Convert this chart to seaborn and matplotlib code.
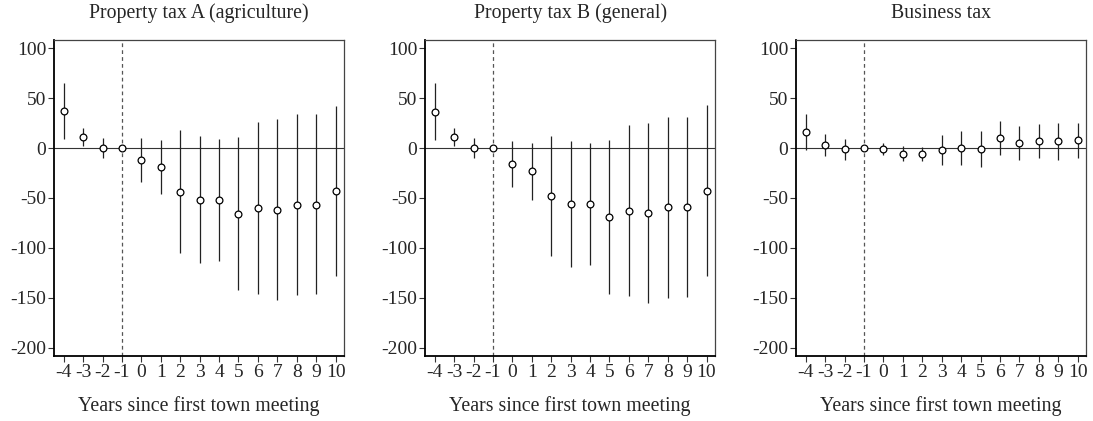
import numpy as np
import pandas as pd
import matplotlib
matplotlib.use("Agg")
import matplotlib.pyplot as plt
import seaborn as sns

# event time
years = [-4, -3, -2, -1, 0, 1, 2, 3, 4, 5, 6, 7, 8, 9, 10]

# property tax A (agriculture)
coef_a = [36.8, 11.4, 0.0, 0.0, -11.7, -19.0, -43.8, -52.0, -52.5, -66.0, -60.5, -62.0, -57.0, -57.0, -43.0]
hi_a = [65.5, 20.4, 10.0, 0.0, 10.0, 8.4, 18.0, 12.0, 9.4, 11.4, 26.0, 28.7, 33.8, 33.8, 42.5]
lo_a = [8.7, 2.3, -9.7, 0.0, -34.0, -46.5, -104.7, -115.0, -113.5, -142.5, -146.0, -152.0, -147.5, -146.5, -128.0]

# property tax B (general)
coef_b = [36.5, 11.4, 0.3, 0.0, -16.0, -23.4, -48.5, -56.0, -56.0, -69.6, -63.0, -65.0, -59.5, -59.0, -43.0]
hi_b = [65.0, 20.4, 10.0, 0.0, 7.0, 4.7, 12.0, 7.0, 4.7, 8.0, 23.4, 25.0, 31.0, 31.0, 43.0]
lo_b = [8.0, 2.3, -9.7, 0.0, -38.8, -52.0, -108.7, -119.0, -117.0, -146.0, -148.7, -155.0, -150.0, -149.7, -128.0]

# business tax
coef_c = [16.0, 3.3, -1.3, 0.0, -0.7, -5.7, -6.0, -1.7, -0.3, -1.3, 10.4, 4.7, 7.0, 6.7, 7.7]
hi_c = [33.8, 13.7, 9.4, 0.0, 5.4, 1.7, 1.3, 13.4, 17.0, 17.0, 27.0, 22.0, 24.0, 25.0, 25.0]
lo_c = [-2.0, -7.7, -12.0, 0.0, -7.0, -13.0, -13.0, -17.4, -17.0, -19.0, -6.7, -12.4, -9.7, -11.7, -9.7]

titles = ["Property tax A (agriculture)", "Property tax B (general)", "Business tax"]
yticks = [100, 50, 0, -50, -100, -150, -200]

sns.set_style("ticks")
plt.rcParams['font.family'] = ['Liberation Serif', 'DejaVu Serif']
plt.rcParams['font.size'] = 12

fig = plt.figure(figsize=(10.93, 4.21), dpi=100)
lefts = [0.0494, 0.3888, 0.7283]
width = 0.2656
series = [(coef_a, lo_a, hi_a), (coef_b, lo_b, hi_b), (coef_c, lo_c, hi_c)]

for i, (coef, lo, hi) in enumerate(series):
    ax = fig.add_axes([lefts[i], 0.154, width, 0.751])
    df = pd.DataFrame({"year": years, "coef": coef, "lo": lo, "hi": hi})

    ax.axhline(0, color="#333333", lw=0.8, zorder=1)
    ax.axvline(-1, color="#555555", lw=0.9, ls=(0, (3, 2.5)), zorder=1)
    ax.vlines(df["year"], df["lo"], df["hi"], color="#222222", lw=0.9, zorder=2)
    sns.scatterplot(data=df, x="year", y="coef", ax=ax, marker="o", s=24,
                    facecolor="white", edgecolor="black", linewidth=0.9, zorder=3)

    ax.set_xlim(-4.5, 10.45)
    ax.set_ylim(-208.6, 108.3)
    ax.set_xticks(years)
    ax.set_xticklabels([str(y) for y in years])
    ax.set_yticks(yticks)
    ax.set_yticklabels([str(y) for y in yticks])
    ax.tick_params(axis="both", direction="out", length=4, width=0.8,
                   color="#333333", labelsize=14, pad=1.5)
    ax.set_xlabel("Years since first town meeting", fontsize=14.3, labelpad=11)
    ax.set_ylabel("")
    ax.set_title(titles[i], fontsize=14.3, pad=15.5)

    for side in ["left", "bottom"]:
        ax.spines[side].set_linewidth(1.3)
        ax.spines[side].set_color("black")
    for side in ["top", "right"]:
        ax.spines[side].set_visible(True)
        ax.spines[side].set_linewidth(0.9)
        ax.spines[side].set_color("#444444")

fig.savefig("out.png", dpi=100)
